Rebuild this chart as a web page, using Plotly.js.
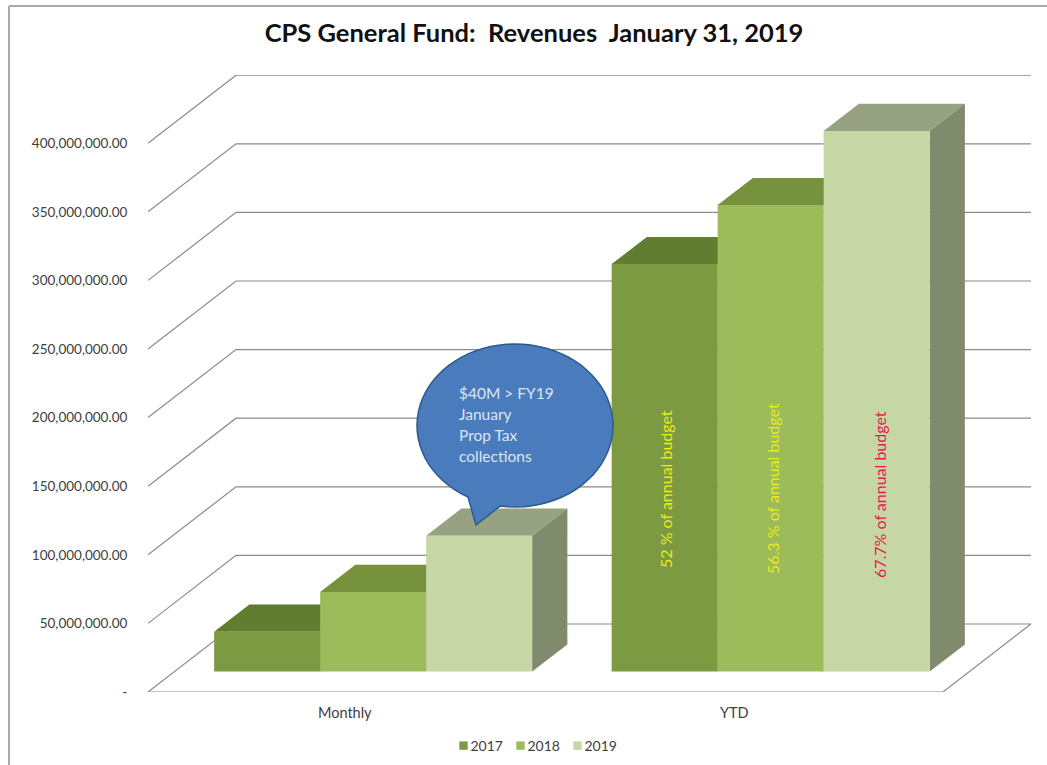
<!DOCTYPE html>
<html>
<head>
<meta charset="utf-8">
<script src="https://cdn.plot.ly/plotly-3.0.1.min.js"></script>
<style>
html,body{margin:0;padding:0;background:#fff}
.legendsymbols{transform:translate(19px,0) scale(.7)}
.legend .scrollbox{clip-path:none !important}
</style>
</head>
<body>
<div id="chart" style="width:1047px;height:765px"></div>
<script>
// ---- data ----
const categories = ['Monthly', 'YTD'];
const years = ['2017', '2018', '2019'];
const values2017 = [29000000, 297000000];
const values2018 = [58000000, 340000000];
const values2019 = [99000000, 394000000];
const tickValues = [0, 50000000, 100000000, 150000000, 200000000, 250000000, 300000000, 350000000, 400000000];
const tickLabels = ['-', '50,000,000.00', '100,000,000.00', '150,000,000.00', '200,000,000.00', '250,000,000.00', '300,000,000.00', '350,000,000.00', '400,000,000.00'];
const budgetNotes = ['52 % of annual budget', '56.3 % of annual budget', '67.7% of annual budget'];
const calloutLines = ['$40M > FY19', 'January', 'Prop Tax', 'collections'];
const chartTitle = 'CPS General Fund:\u00A0\u00A0Revenues\u00A0\u00A0January 31, 2019';

// ---- styling ----
const FONT = 'Lato, "Open Sans", sans-serif';
const frontColors = ['#7b9a42', '#9cbb5a', '#c6d7a5'];
const topColors = ['#617d30', '#76923c', '#96a281'];
const sideColors = ['#617d30', '#76923c', '#7f8b6c'];
const noteColors = ['#e8ec1c', '#e8ec1c', '#e8174f'];

// ---- plot frame & oblique projection ----
const W = 1047, H = 765;
const L = 148, T = 75, B = 692;
const catPx = 397.5;             // pixel width of one category on the front edge
const pxPerValue = 68.6 / 50000000;
const depthX = 88 / catPx;       // wall depth along x (axis units)
const depthV = 68 / pxPerValue;  // wall depth along y (axis units)
const xMax = 2 + depthX;
const R = L + xMax * catPx;
const yMax = (B - T) / pxPerValue;
const depthFront = 0.3, depthBack = 0.7;
const groupCentres = categories.map((c, i) => i + 0.5 + depthFront * depthX);
const barW = 0.8 / 3;
const baseV = depthFront * depthV;
const faceDX = (depthBack - depthFront) * depthX;
const faceDV = (depthBack - depthFront) * depthV;

const series = [values2017, values2018, values2019];
const traces = [];

// walls and floor
const gx = [], gy = [];
tickValues.forEach(v => {
  gx.push(0, depthX, xMax, null);
  gy.push(v, v + depthV, v + depthV, null);
});
gx.push(0, 2, xMax, null);
gy.push(0, 0, depthV, null);
traces.push({type: 'scatter', mode: 'lines', x: gx, y: gy, xaxis: 'x', yaxis: 'y', showlegend: false,
  hoverinfo: 'skip', cliponaxis: false, line: {color: '#8a8a8a', width: 1.2}});

// top and side faces, derived from the values
series.forEach((vals, s) => {
  vals.forEach((v, c) => {
    const x0 = groupCentres[c] - 0.4 + s * barW, x1 = x0 + barW;
    const top = baseV + v;
    traces.push({type: 'scatter', mode: 'lines', fill: 'toself', xaxis: 'x', yaxis: 'y', showlegend: false, hoverinfo: 'skip',
      x: [x0, x1, x1 + faceDX, x0 + faceDX, x0], y: [top, top, top + faceDV, top + faceDV, top],
      fillcolor: topColors[s], line: {width: 0, color: topColors[s]}});
    traces.push({type: 'scatter', mode: 'lines', fill: 'toself', xaxis: 'x', yaxis: 'y', showlegend: false, hoverinfo: 'skip',
      x: [x1, x1 + faceDX, x1 + faceDX, x1, x1], y: [baseV, baseV + faceDV, top + faceDV, top, baseV],
      fillcolor: sideColors[s], line: {width: 0, color: sideColors[s]}});
  });
});

// front faces
series.forEach((vals, s) => {
  traces.push({type: 'bar', name: years[s], x: groupCentres, y: vals, base: baseV,
    xaxis: 'x2', yaxis: 'y2', marker: {color: frontColors[s], line: {width: 0}}});
});

// helpers: page pixels to axis/paper units, for decorations only
const pxX = p => (p - L) / catPx;
const pxY = p => (B - p) / pxPerValue;
const papX = p => (p - L) / (R - L);
const papY = p => (B - p) / (B - T);

// speech bubble
const cx = 515, cy = 425.5, rx = 98, ry = 81.5;
const tail = [[500, 507], [476, 525], [468, 497]];
const angStart = Math.atan2((tail[2][1] - cy) / ry, (tail[2][0] - cx) / rx);
const angEnd = Math.atan2((tail[0][1] - cy) / ry, (tail[0][0] - cx) / rx);
let path = `M${pxX(tail[2][0])},${pxY(tail[2][1])}`;
const sweep = (angEnd - angStart + 2 * Math.PI) % (2 * Math.PI);
for (let i = 1; i <= 72; i++) {
  const a = angStart + sweep * i / 72;
  path += `L${pxX(cx + rx * Math.cos(a))},${pxY(cy + ry * Math.sin(a))}`;
}
path += `L${pxX(tail[1][0])},${pxY(tail[1][1])}Z`;

const shapes = [
  {type: 'path', xref: 'x', yref: 'y', path: path, fillcolor: '#4a7cbd', line: {color: '#2b5a8c', width: 1.5}, layer: 'above'},
  {type: 'line', xref: 'paper', yref: 'paper', x0: papX(9), x1: papX(1047), y0: papY(6), y1: papY(6), line: {color: '#ababab', width: 2}},
  {type: 'line', xref: 'paper', yref: 'paper', x0: papX(9), x1: papX(9), y0: papY(6), y1: papY(765), line: {color: '#ababab', width: 2}}
];

// annotations
const annotations = [];
calloutLines.forEach((t, i) => annotations.push({
  xref: 'paper', yref: 'paper', x: papX(457), y: papY(393 + i * 21), xanchor: 'left', yanchor: 'middle',
  text: t, showarrow: false, font: {family: FONT, size: 15.5, color: '#dbe6f2'}
}));
const notePx = [[665, 489], [772, 489], [880, 495]];
budgetNotes.forEach((t, i) => annotations.push({
  xref: 'paper', yref: 'paper', x: papX(notePx[i][0]), y: papY(notePx[i][1]), xanchor: 'center', yanchor: 'middle',
  text: t, textangle: -90, showarrow: false, font: {family: FONT, size: 16, color: noteColors[i]}
}));

const layout = {
  width: W, height: H,
  margin: {l: L, r: W - R, t: T, b: H - B, pad: 0},
  paper_bgcolor: '#ffffff', plot_bgcolor: 'rgba(0,0,0,0)',
  font: {family: FONT, size: 13, color: '#404040'},
  title: {text: chartTitle, x: 534 / W, xanchor: 'center', y: 1 - 33 / H, yanchor: 'middle',
    font: {family: FONT, size: 25.5, color: '#111111', weight: 700}},
  showlegend: true,
  legend: {orientation: 'h', xref: 'container', yref: 'container', x: 516 / W, xanchor: 'center', y: 1 - 746 / H, yanchor: 'middle',
    font: {size: 14, color: '#404040'}, itemwidth: 30, entrywidth: 12, entrywidthmode: 'pixels', traceorder: 'normal', bgcolor: 'rgba(0,0,0,0)'},
  barmode: 'group', bargap: 0.2, bargroupgap: 0,
  xaxis: {range: [0, xMax], tickmode: 'array', tickvals: [0.495, 1.475], ticktext: categories,
    showgrid: false, zeroline: false, showline: false, ticks: 'outside', ticklen: 8, tickcolor: 'rgba(0,0,0,0)',
    tickfont: {size: 14.5, color: '#404040'}, fixedrange: true, automargin: false},
  yaxis: {range: [0, yMax], tickmode: 'array', tickvals: tickValues, ticktext: tickLabels,
    showgrid: false, zeroline: false, showline: false, ticks: 'outside', ticklen: 17, tickcolor: 'rgba(0,0,0,0)',
    tickfont: {size: 13.5, color: '#404040'}, fixedrange: true, automargin: false},
  xaxis2: {range: [0, xMax], overlaying: 'x', visible: false, fixedrange: true},
  yaxis2: {range: [0, yMax], overlaying: 'y', visible: false, fixedrange: true},
  shapes: shapes,
  annotations: annotations
};

Plotly.newPlot('chart', traces, layout, {displayModeBar: false, responsive: false});
</script>
</body>
</html>
